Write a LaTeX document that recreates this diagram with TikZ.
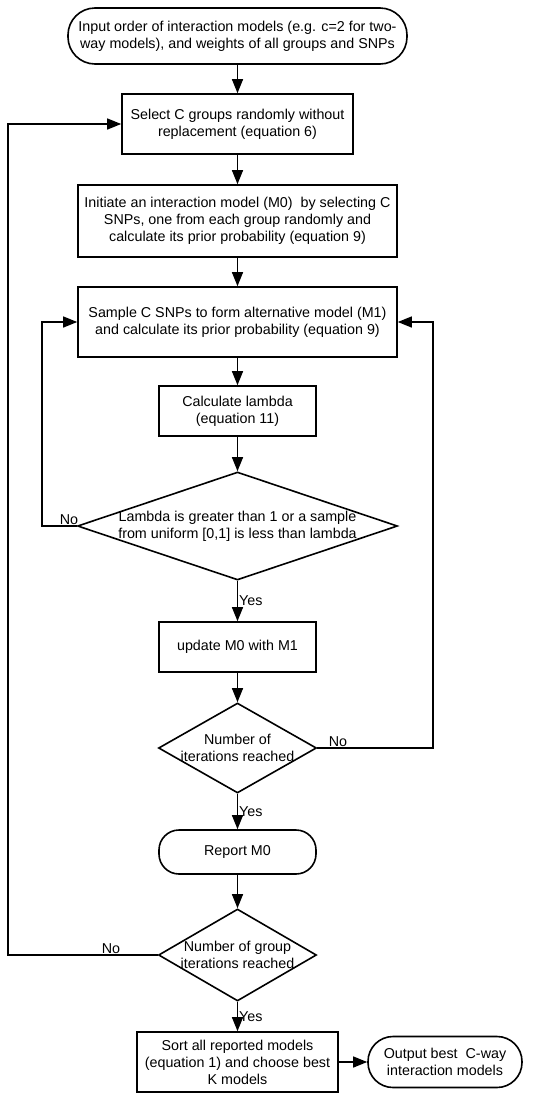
\documentclass[tikz,border=0pt]{standalone}
\usepackage{fontspec}
\setmainfont{Liberation Sans}
\usepackage{tikz}
\usetikzlibrary{shapes.geometric, arrows.meta}
\tikzset{
  font=\fontsize{14.3}{17}\selectfont,      % arial-like text everywhere
  startstop/.style        = {rectangle, rounded corners=20pt, draw, line width=1.6pt,
                             inner sep=2pt, align=center},
  process/.style          = {rectangle, draw, line width=1.6pt,
                             inner sep=2pt, align=center},
  decision/.style         = {diamond, draw, line width=1.6pt,
                             inner xsep=-10pt, inner ysep=-4pt, align=center},
  arrow/.style            = {-{Triangle[length=14pt,width=11pt]}, line width=1.3pt},
  tag/.style              = {inner sep=1pt}
}
\begin{document}
\begin{tikzpicture}[x=1pt, y=-1pt]
  \useasboundingbox (0,0) rectangle (557,1093);
  % main column
  \node[startstop, rounded corners=27pt, minimum width=339pt, minimum height=56pt] (input) at (237.5,36)
    {Input order of interaction models (e.g. c=2 for two-\\way models), and weights of all groups and SNPs};
  \node[process, minimum width=231pt, minimum height=60pt] (select) at (237.5,124)
    {Select C groups randomly without\\replacement (equation 6)};
  \node[process, minimum width=319pt, minimum height=72pt] (init) at (237.5,221)
    {Initiate an interaction model (M0)\ \ by selecting C\\SNPs, one from each group randomly and\\calculate its prior probability (equation 9)};
  \node[process, minimum width=319pt, minimum height=70pt] (sample) at (237.5,322)
    {Sample C SNPs to form alternative model (M1)\\and calculate its prior probability (equation 9)};
  \node[process, minimum width=157pt, minimum height=50pt] (lambda) at (237.5,411)
    {Calculate lambda\\(equation 11)};
  \node[decision, aspect=2.96, minimum width=320pt, minimum height=108pt] (accept) at (237.5,526)
    {Lambda is greater than 1 or a sample\\from uniform [0,1] is less than lambda};
  \node[process, minimum width=157pt, minimum height=50pt] (update) at (237.5,647)
    {update M0 with M1};
  \node[decision, aspect=1.76, minimum width=158pt, minimum height=90pt] (iters) at (237.5,748)
    {Number of\\iterations reached};
  \node[startstop, minimum width=157pt, minimum height=44pt] (report) at (237.5,852)
    {Report M0};
  \node[decision, aspect=1.72, minimum width=158pt, minimum height=92pt] (groups) at (237.5,955)
    {Number of group\\iterations reached};
  \node[process, minimum width=201pt, minimum height=60pt] (sort) at (237.5,1062)
    {Sort all reported models\\(equation 1) and choose best\\K models};
  \node[startstop, rounded corners=25pt, minimum width=154pt, minimum height=51pt] (output) at (445,1062)
    {Output best\ \ C-way\\interaction models};

  % straight arrows
  \draw[arrow] (input) -- (select);
  \draw[arrow] (select) -- (init);
  \draw[arrow] (init) -- (sample);
  \draw[arrow] (sample) -- (lambda);
  \draw[arrow] (lambda) -- (accept);
  \draw[arrow] (accept) -- node[tag, anchor=west] (yes1) {Yes} (update);
  \draw[arrow] (update) -- (iters);
  \draw[arrow] (iters) -- node[tag, anchor=west] (yes2) {Yes} (report);
  \draw[arrow] (report) -- (groups);
  \draw[arrow] (groups) -- node[tag, anchor=west] (yes3) {Yes} (sort);
  \draw[arrow] (sort) -- (output);

  % loop backs
  \coordinate (noA) at (42,526);
  \coordinate (noB) at (433,748);
  \coordinate (noC) at (8,955);
  \draw[arrow] (accept.west) -- (noA) |- (sample.west);
  \draw[arrow] (iters.east) -- (noB) |- (sample.east);
  \draw[arrow] (groups.west) -- (noC) |- (select.west);
  \node[tag, anchor=south] (no1) at (69,526) {No};
  \node[tag, anchor=south] (no2) at (338,748) {No};
  \node[tag, anchor=south] (no3) at (111,955) {No};
\end{tikzpicture}
\end{document}
